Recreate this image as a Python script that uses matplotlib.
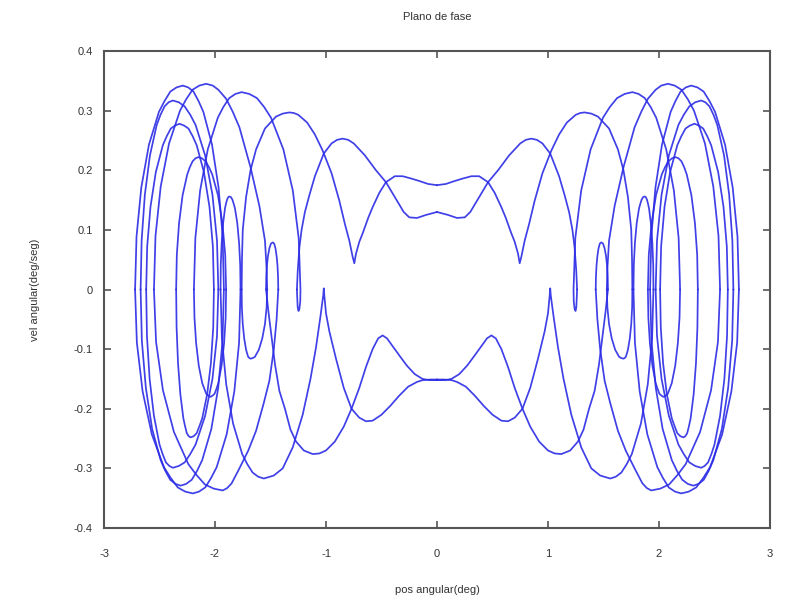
"""Phase-plane plot (angular position vs angular velocity)."""

import matplotlib

matplotlib.use("Agg")
import matplotlib.pyplot as plt
import numpy as np


# Arcs of the left half of the trajectory.
# The picture is mirror-symmetric about x = 0, so the right half is drawn
# from the same arcs with x negated.

# upper arcs (velocity > 0)
ARC_A_X = [-2.72, -2.707, -2.664, -2.595, -2.505, -2.455, -2.402, -2.346, -2.29, -2.242, -2.194, -2.148, -2.105,
           -2.027, -1.968, -1.931, -1.92]
ARC_A_Y = [0, .089, .171, .243, .298, .316, .332, .339, .342, .339, .332, .316, .298, .243, .171, .089, 0]

ARC_C_X = [-2.67, -2.661, -2.632, -2.586, -2.525, -2.491, -2.455, -2.418, -2.38, -2.326, -2.273, -2.223, -2.175,
           -2.089, -2.023, -1.982, -1.97]
ARC_C_Y = [0, .082, .159, .225, .276, .293, .307, .314, .317, .314, .307, .293, .276, .225, .159, .082, 0]

ARC_E_X = [-2.62, -2.611, -2.581, -2.533, -2.47, -2.435, -2.398, -2.359, -2.32, -2.279, -2.239, -2.201, -2.165,
           -2.10, -2.05, -2.019, -2.01]
ARC_E_Y = [0, .072, .139, .197, .242, .257, .27, .275, .278, .275, .27, .257, .242, .197, .139, .072, 0]

ARC_B_X = [-2.55, -2.536, -2.489, -2.414, -2.315, -2.26, -2.202, -2.142, -2.08, -2.02, -1.97, -1.90, -1.84,
           -1.78, -1.68, -1.60, -1.55, -1.535, -1.53]
ARC_B_Y = [0, .09, .173, .245, .30, .319, .335, .342, .345, .342, .335, .32, .298, .272, .205, .14, .082, .035, 0]

ARC_G_X = [-2.35, -2.344, -2.324, -2.292, -2.25, -2.227, -2.202, -2.176, -2.15, -2.117, -2.085, -2.054, -2.025,
           -1.973, -1.933, -1.908, -1.90]
ARC_G_Y = [0, .058, .111, .158, .193, .205, .215, .22, .222, .22, .215, .205, .193, .158, .111, .058, 0]

ARC_D_X = [-2.19, -2.177, -2.134, -2.065, -1.975, -1.925, -1.872, -1.816, -1.76, -1.691, -1.622, -1.557, -1.495,
           -1.384, -1.299, -1.246, -1.23, -1.232, -1.24, -1.248, -1.255, -1.26, -1.262]
ARC_D_Y = [0, .086, .166, .235, .288, .306, .321, .328, .331, .328, .321, .306, .288,
           .235, .166, .086, 0, -.02, -.033, -.036, -.03, -.01, 0]

ARC_I_X = [-1.95, -1.948, -1.94, -1.927, -1.91, -1.901, -1.891, -1.880, -1.87, -1.857, -1.844, -1.832, -1.82,
           -1.799, -1.783, -1.773, -1.77]
ARC_I_Y = [0, .041, .078, .111, .136, .144, .151, .155, .156, .155, .151, .144, .136, .111, .078, .041, 0]

ARC_J_X = [-1.54, -1.538, -1.532, -1.523, -1.51, -1.496, -1.48, -1.467, -1.455, -1.445, -1.437, -1.432, -1.43]
ARC_J_Y = [0, .021, .04, .056, .069, .077, .079, .077, .069, .056, .04, .021, 0]

ARC_F_X = [-1.76, -1.757, -1.75, -1.72, -1.68, -1.63, -1.55, -1.45, -1.39, -1.33, -1.29, -1.25, -1.17, -1.10,
           -1.03, -.95, -.88, -.83, -.79, -.76, -.745, -.73, -.70, -.67, -.62, -.58, -.52, -.46, -.38, -.31,
           -.23, -.16, -.08, 0]
ARC_F_Y = [0, .05, .10, .155, .20, .235, .27, .29, .295, .297, .296, .293, .28, .26,
           .233, .195, .149, .11, .082, .055, .044, .06, .08, .094, .12, .138, .162, .18, .19, .19,
           .186, .182, .177, .175]

ARC_H_X = [-1.262, -1.255, -1.24, -1.22, -1.19, -1.15, -1.10, -1.02, -.95, -.90, -.85, -.80, -.75, -.65, -.55,
           -.46, -.38, -.30, -.25, -.18, -.10, 0]
ARC_H_Y = [0, .03, .07, .10, .13, .158, .19, .228, .245, .251, .253, .251, .245, .225, .20,
           .18, .155, .13, .121, .12, .125, .13]

# lower arcs (velocity < 0)
ARC_T1_X = [-2.72, -2.704, -2.652, -2.569, -2.46, -2.399, -2.335, -2.268, -2.20, -2.144, -2.088, -2.035, -1.985,
            -1.895, -1.826, -1.783, -1.77]
ARC_T1_Y = [0, -.089, -.171, -.243, -.298, -.316, -.332, -.339, -.342, -.339, -.332, -.316, -.298,
            -.243, -.171, -.089, 0]

ARC_T5_X = [-2.67, -2.659, -2.623, -2.566, -2.49, -2.448, -2.404, -2.357, -2.31, -2.259, -2.209, -2.161, -2.115,
            -2.033, -1.971, -1.932, -1.92]
ARC_T5_Y = [0, -.086, -.165, -.234, -.286, -.304, -.319, -.326, -.329, -.326, -.319, -.304, -.286,
            -.234, -.165, -.086, 0]

ARC_T3_X = [-2.62, -2.613, -2.589, -2.55, -2.50, -2.472, -2.442, -2.411, -2.38, -2.326, -2.273, -2.223, -2.175,
            -2.089, -2.023, -1.982, -1.97]
ARC_T3_Y = [0, -.078, -.15, -.212, -.26, -.276, -.29, -.296, -.299, -.296, -.29, -.276, -.26,
            -.212, -.15, -.078, 0]

ARC_T4_X = [-2.35, -2.346, -2.333, -2.312, -2.285, -2.27, -2.254, -2.237, -2.22, -2.192, -2.165, -2.14, -2.115,
            -2.071, -2.037, -2.016, -2.01]
ARC_T4_Y = [0, -.064, -.124, -.176, -.216, -.229, -.241, -.246, -.248, -.246, -.241, -.229, -.216,
            -.176, -.124, -.064, 0]

ARC_T2_X = [-2.55, -2.531, -2.469, -2.37, -2.24, -2.167, -2.091, -2.011, -1.93, -1.89, -1.85, -1.78, -1.70,
            -1.63, -1.56, -1.51, -1.47, -1.445, -1.43]
ARC_T2_Y = [0, -.088, -.169, -.239, -.293, -.311, -.327, -.334, -.337, -.333, -.325, -.30, -.27,
            -.237, -.19, -.153, -.10, -.05, 0]

ARC_T10_X = [-2.19, -2.185, -2.17, -2.146, -2.115, -2.097, -2.079, -2.06, -2.04, -2.022, -2.004, -1.986, -1.97,
             -1.941, -1.918, -1.904, -1.90]
ARC_T10_Y = [0, -.047, -.09, -.128, -.157, -.166, -.175, -.178, -.18, -.178, -.175, -.166, -.157,
             -.128, -.09, -.047, 0]

ARC_T9_X = [-1.76, -1.758, -1.75, -1.737, -1.72, -1.711, -1.701, -1.69, -1.68, -1.66, -1.641, -1.623, -1.605,
            -1.574, -1.55, -1.535, -1.53]
ARC_T9_Y = [0, -.03, -.058, -.082, -.101, -.107, -.113, -.115, -.116, -.115, -.113, -.107, -.101,
            -.082, -.058, -.03, 0]

# lower curve through the spike at x = -1 and the central flat part
ARC_Q_X = [-1.95, -1.938, -1.899, -1.837, -1.755, -1.709, -1.661, -1.611, -1.56, -1.47, -1.39, -1.30, -1.21,
           -1.14, -1.09, -1.05, -1.025, -1.02, -1.015, -1.0, -.97, -.91, -.84, -.77, -.70, -.64, -.58, -.50,
           -.42, -.34, -.26, -.18, -.13, -.06, 0]
ARC_Q_Y = [0, -.082, -.159, -.225, -.276, -.293, -.307, -.314, -.317, -.312, -.30, -.265, -.21,
           -.15, -.097, -.045, -.01, .002, -.01, -.04, -.07, -.116, -.165, -.20, -.215, -.221, -.22, -.21,
           -.195, -.178, -.163, -.155, -.152, -.151, -.151]

# lower curve through the hump at x = -0.5
ARC_P_X = [0, -.07, -.13, -.20, -.27, -.33, -.40, -.45, -.49, -.53, -.58, -.64, -.70, -.77, -.84, -.92,
           -1.0, -1.06, -1.12, -1.2, -1.27, -1.32, -1.37, -1.42, -1.46, -1.49, -1.52, -1.54]
ARC_P_Y = [-.152, -.152, -.150, -.142, -.128, -.113, -.095, -.082, -.077, -.082, -.10, -.13, -.165, -.20,
           -.23, -.255, -.27, -.275, -.276, -.27, -.255, -.235, -.20, -.17, -.125, -.08, -.035, 0]

LEFT_ARCS = [
    (ARC_A_X, ARC_A_Y), (ARC_C_X, ARC_C_Y), (ARC_E_X, ARC_E_Y), (ARC_B_X, ARC_B_Y),
    (ARC_G_X, ARC_G_Y), (ARC_D_X, ARC_D_Y), (ARC_I_X, ARC_I_Y), (ARC_J_X, ARC_J_Y),
    (ARC_F_X, ARC_F_Y), (ARC_H_X, ARC_H_Y),
    (ARC_T1_X, ARC_T1_Y), (ARC_T5_X, ARC_T5_Y), (ARC_T3_X, ARC_T3_Y), (ARC_T4_X, ARC_T4_Y),
    (ARC_T2_X, ARC_T2_Y), (ARC_T10_X, ARC_T10_Y), (ARC_T9_X, ARC_T9_Y),
    (ARC_Q_X, ARC_Q_Y), (ARC_P_X, ARC_P_Y),
]

X_TICKS = [-3, -2, -1, 0, 1, 2, 3]
Y_TICKS = [-0.4, -0.3, -0.2, -0.1, 0, 0.1, 0.2, 0.3, 0.4]
Y_TICK_LABELS = ["-0.4", "-0.3", "-0.2", "-0.1", "0", "0.1", "0.2", "0.3", "0.4"]

TITLE = "Plano de fase"
X_LABEL = "pos angular(deg)"
Y_LABEL = "vel angular(deg/seg)"

LINE_COLOR = "#2b2be6"
TEXT_COLOR = "#333333"


def main() -> int:
    plt.rcParams["font.family"] = ["Liberation Sans", "DejaVu Sans"]

    fig = plt.figure(figsize=(7.95, 6.03), dpi=100)
    ax = fig.add_axes([104 / 795, 75 / 603, 666 / 795, 477 / 603])

    for xs, ys in LEFT_ARCS:
        x = np.asarray(xs, dtype=float)
        y = np.asarray(ys, dtype=float)
        ax.plot(x, y, color=LINE_COLOR, lw=1.25, alpha=0.9, solid_joinstyle="round")
        ax.plot(-x, y, color=LINE_COLOR, lw=1.25, alpha=0.9, solid_joinstyle="round")

    ax.set_xlim(-3, 3)
    ax.set_ylim(-0.4, 0.4)
    ax.set_xticks(X_TICKS)
    ax.set_xticklabels([str(t) for t in X_TICKS])
    ax.set_yticks(Y_TICKS)
    ax.set_yticklabels(Y_TICK_LABELS)
    ax.tick_params(axis="x", direction="in", top=True, length=5, width=1.2, pad=15,
                   labelsize=8, colors="#555555", labelcolor=TEXT_COLOR)
    ax.tick_params(axis="y", direction="in", right=True, length=5, width=1.2, pad=8,
                   labelsize=8, colors="#555555", labelcolor=TEXT_COLOR)
    for spine in ax.spines.values():
        spine.set_linewidth(1.5)
        spine.set_color("#555555")

    fig.text(437 / 795, 1 - 17 / 603, TITLE, ha="center", va="center", fontsize=8, color=TEXT_COLOR)
    fig.text(437 / 795, 1 - 590 / 603, X_LABEL, ha="center", va="center", fontsize=8, color=TEXT_COLOR)
    fig.text(35 / 795, 1 - 290 / 603, Y_LABEL, ha="center", va="center", rotation=90, fontsize=8,
             color=TEXT_COLOR)

    fig.savefig("out.png", dpi=100)
    plt.close(fig)
    return 0


if __name__ == "__main__":
    raise SystemExit(main())
